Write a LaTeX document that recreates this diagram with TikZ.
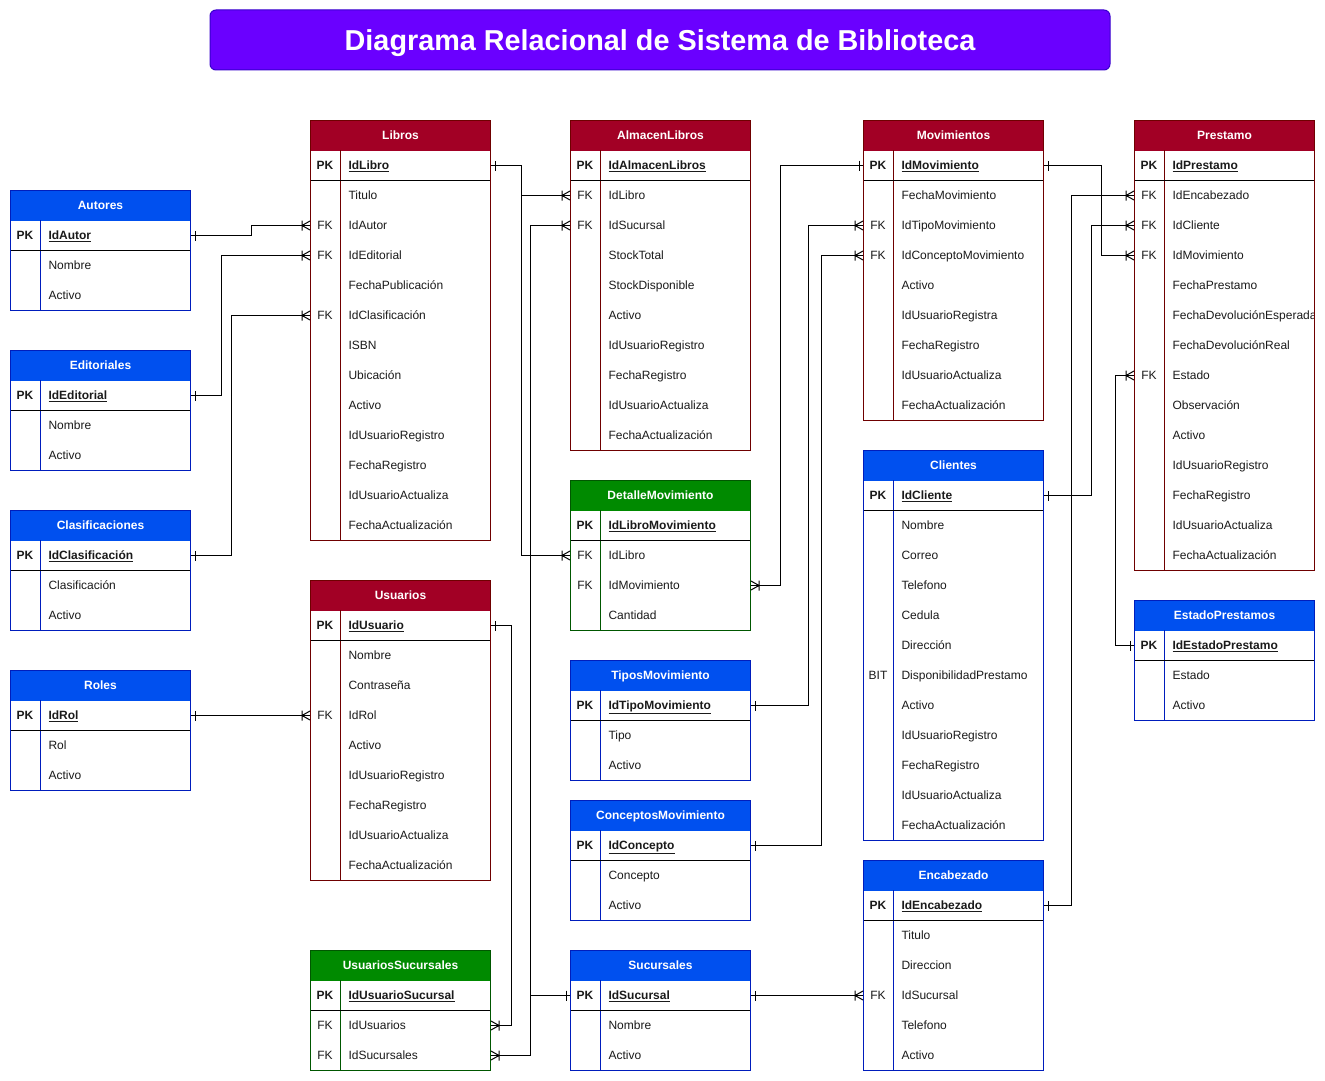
\documentclass[tikz,border=0pt]{standalone}
\usepackage{fontspec}
\setmainfont{Liberation Sans}
\usetikzlibrary{arrows.meta}

\definecolor{redfill}{HTML}{A20025}
\definecolor{redline}{HTML}{6F0000}
\definecolor{bluefill}{HTML}{0050EF}
\definecolor{blueline}{HTML}{001DBC}
\definecolor{greenfill}{HTML}{008A00}
\definecolor{greenline}{HTML}{005700}
\definecolor{purplefill}{HTML}{6A00FF}
\definecolor{purpleline}{HTML}{3700CC}
\definecolor{txtcol}{HTML}{1A1A1A}

\pgfdeclarearrow{
  name = ERone,
  setup code = {\pgfarrowssettipend{0pt}\pgfarrowssetlineend{0pt}},
  drawing code = {
    \pgfpathmoveto{\pgfpoint{-4pt}{5pt}}
    \pgfpathlineto{\pgfpoint{-4pt}{-5pt}}
    \pgfusepathqstroke
  },
}
\pgfdeclarearrow{
  name = ERmany,
  setup code = {\pgfarrowssettipend{0pt}\pgfarrowssetlineend{0pt}},
  drawing code = {
    \pgfpathmoveto{\pgfpoint{0pt}{4.5pt}}
    \pgfpathlineto{\pgfpoint{-8pt}{0pt}}
    \pgfpathlineto{\pgfpoint{0pt}{-4.5pt}}
    \pgfpathmoveto{\pgfpoint{-8pt}{5pt}}
    \pgfpathlineto{\pgfpoint{-8pt}{-5pt}}
    \pgfusepathqstroke
  },
}

\newcommand\erfont{\fontsize{12}{14}\selectfont}

\tikzset{
  titlebox/.style={minimum width=900pt, minimum height=60pt, inner sep=0pt,
    fill=purplefill, draw=purpleline, rounded corners=6pt, text=white,
    text height=20.5pt, text depth=0pt,
    font=\fontsize{28.8}{33}\selectfont\bfseries},
  hdr/.style={anchor=north west, minimum width=180pt, minimum height=30pt,
    inner sep=0pt, text=white, text height=8.6pt, text depth=0pt, font=\erfont\bfseries},
  rowbox/.style={anchor=north west, minimum width=180pt, minimum height=30pt, inner sep=0pt},
  keytxt/.style={anchor=center, inner sep=0pt, text=txtcol, text height=8.6pt, text depth=0pt, font=\erfont},
  rowtxt/.style={anchor=west, inner sep=0pt, text=txtcol, text height=8.6pt, text depth=0pt, font=\erfont},
  pkkey/.style={keytxt, font=\erfont\bfseries},
  pktxt/.style={rowtxt, font=\erfont\bfseries},
  conn/.style={draw=black, line width=1pt, arrows=ERone-ERmany},
}

% #1 id, #2 x, #3 y, #4 colour, #5 title, #6 pk, #7 number of other rows, #8 rows key/text
\newcommand\ertable[8]{%
  \pgfmathsetmacro\erh{60+30*#7}
  \begin{scope}
    \clip (#2,#3) rectangle ++(180,\erh);
    \node[hdr, fill=#4fill] (#1) at (#2,#3) {#5};
    \node[rowbox] (#1-0) at (#2,#3+30) {};
    \node[pkkey] (#1-k0) at (#2+15,#3+45) {PK};
    \node[pktxt] (#1-t0) at (#2+38,#3+45) {\underline{#6}};
    \foreach[count=\i] \kk/\tx in {#8} {
      \node[rowbox] (#1-\i) at (#2,#3+30+30*\i) {};
      \node[keytxt] (#1-k\i) at (#2+15,#3+45+30*\i) {\kk};
      \node[rowtxt] (#1-t\i) at (#2+38,#3+45+30*\i) {\tx};
    }
  \end{scope}
  \draw[#4line] (#2+30,#3+30) -- ++(0,\erh-30);
  \draw[black] (#2,#3+60) -- ++(180,0);
  \draw[#4line] (#2,#3) rectangle ++(180,\erh);
}

\begin{document}
\begin{tikzpicture}[x=1pt, y=-1pt, line width=1pt]
\useasboundingbox (0,0) rectangle (1325,1081);

\node[titlebox] (title) at (660,40) {Diagrama Relacional de Sistema de Biblioteca};

\ertable{aut}{10}{190}{blue}{Autores}{IdAutor}{2}{/Nombre,/Activo}
\ertable{edi}{10}{350}{blue}{Editoriales}{IdEditorial}{2}{/Nombre,/Activo}
\ertable{cla}{10}{510}{blue}{Clasificaciones}{IdClasificación}{2}{/Clasificación,/Activo}
\ertable{rol}{10}{670}{blue}{Roles}{IdRol}{2}{/Rol,/Activo}

\ertable{lib}{310}{120}{red}{Libros}{IdLibro}{12}{/Titulo,FK/IdAutor,FK/IdEditorial,/FechaPublicación,FK/IdClasificación,/ISBN,/Ubicación,/Activo,/IdUsuarioRegistro,/FechaRegistro,/IdUsuarioActualiza,/FechaActualización}
\ertable{usu}{310}{580}{red}{Usuarios}{IdUsuario}{8}{/Nombre,/Contraseña,FK/IdRol,/Activo,/IdUsuarioRegistro,/FechaRegistro,/IdUsuarioActualiza,/FechaActualización}
\ertable{uss}{310}{950}{green}{UsuariosSucursales}{IdUsuarioSucursal}{2}{FK/IdUsuarios,FK/IdSucursales}

\ertable{alm}{570}{120}{red}{AlmacenLibros}{IdAlmacenLibros}{9}{FK/IdLibro,FK/IdSucursal,/StockTotal,/StockDisponible,/Activo,/IdUsuarioRegistro,/FechaRegistro,/IdUsuarioActualiza,/FechaActualización}
\ertable{det}{570}{480}{green}{DetalleMovimiento}{IdLibroMovimiento}{3}{FK/IdLibro,FK/IdMovimiento,/Cantidad}
\ertable{tip}{570}{660}{blue}{TiposMovimiento}{IdTipoMovimiento}{2}{/Tipo,/Activo}
\ertable{con}{570}{800}{blue}{ConceptosMovimiento}{IdConcepto}{2}{/Concepto,/Activo}
\ertable{suc}{570}{950}{blue}{Sucursales}{IdSucursal}{2}{/Nombre,/Activo}

\ertable{mov}{863}{120}{red}{Movimientos}{IdMovimiento}{8}{/FechaMovimiento,FK/IdTipoMovimiento,FK/IdConceptoMovimiento,/Activo,/IdUsuarioRegistra,/FechaRegistro,/IdUsuarioActualiza,/FechaActualización}
\ertable{cli}{863}{450}{blue}{Clientes}{IdCliente}{11}{/Nombre,/Correo,/Telefono,/Cedula,/Dirección,BIT/DisponibilidadPrestamo,/Activo,/IdUsuarioRegistro,/FechaRegistro,/IdUsuarioActualiza,/FechaActualización}
\ertable{enc}{863}{860}{blue}{Encabezado}{IdEncabezado}{5}{/Titulo,/Direccion,FK/IdSucursal,/Telefono,/Activo}

\ertable{pre}{1134}{120}{red}{Prestamo}{IdPrestamo}{13}{FK/IdEncabezado,FK/IdCliente,FK/IdMovimiento,/FechaPrestamo,/FechaDevoluciónEsperada,/FechaDevoluciónReal,FK/Estado,/Observación,/Activo,/IdUsuarioRegistro,/FechaRegistro,/IdUsuarioActualiza,/FechaActualización}
\ertable{est}{1134}{600}{blue}{EstadoPrestamos}{IdEstadoPrestamo}{2}{/Estado,/Activo}

% connectors
\draw[conn] (aut-0.east) -- ++(60,0) |- (lib-2.west);
\draw[conn] (edi-0.east) -- ++(30,0) |- (lib-3.west);
\draw[conn] (cla-0.east) -- ++(40,0) |- (lib-5.west);
\draw[conn] (rol-0.east) -- (usu-3.west);
\draw[conn] (lib-0.east) -- ++(30,0) |- (alm-1.west);
\draw[conn] (lib-0.east) -- ++(30,0) |- (det-1.west);
\draw[conn] (suc-0.west) -- ++(-40,0) |- (alm-2.west);
\draw[conn] (suc-0.west) -- ++(-40,0) |- (uss-2.east);
\draw[conn] (usu-0.east) -- ++(20,0) |- (uss-1.east);
\draw[conn] (mov-0.west) -- ++(-83,0) |- (det-2.east);
\draw[conn] (mov-0.east) -- ++(57,0) |- (pre-3.west);
\draw[conn] (tip-0.east) -- ++(57,0) |- (mov-2.west);
\draw[conn] (con-0.east) -- ++(70,0) |- (mov-3.west);
\draw[conn] (cli-0.east) -- ++(47,0) |- (pre-2.west);
\draw[conn] (enc-0.east) -- ++(27,0) |- (pre-1.west);
\draw[conn] (est-0.west) -- ++(-19,0) |- (pre-7.west);
\draw[conn] (suc-0.east) -- (enc-3.west);
\end{tikzpicture}
\end{document}
